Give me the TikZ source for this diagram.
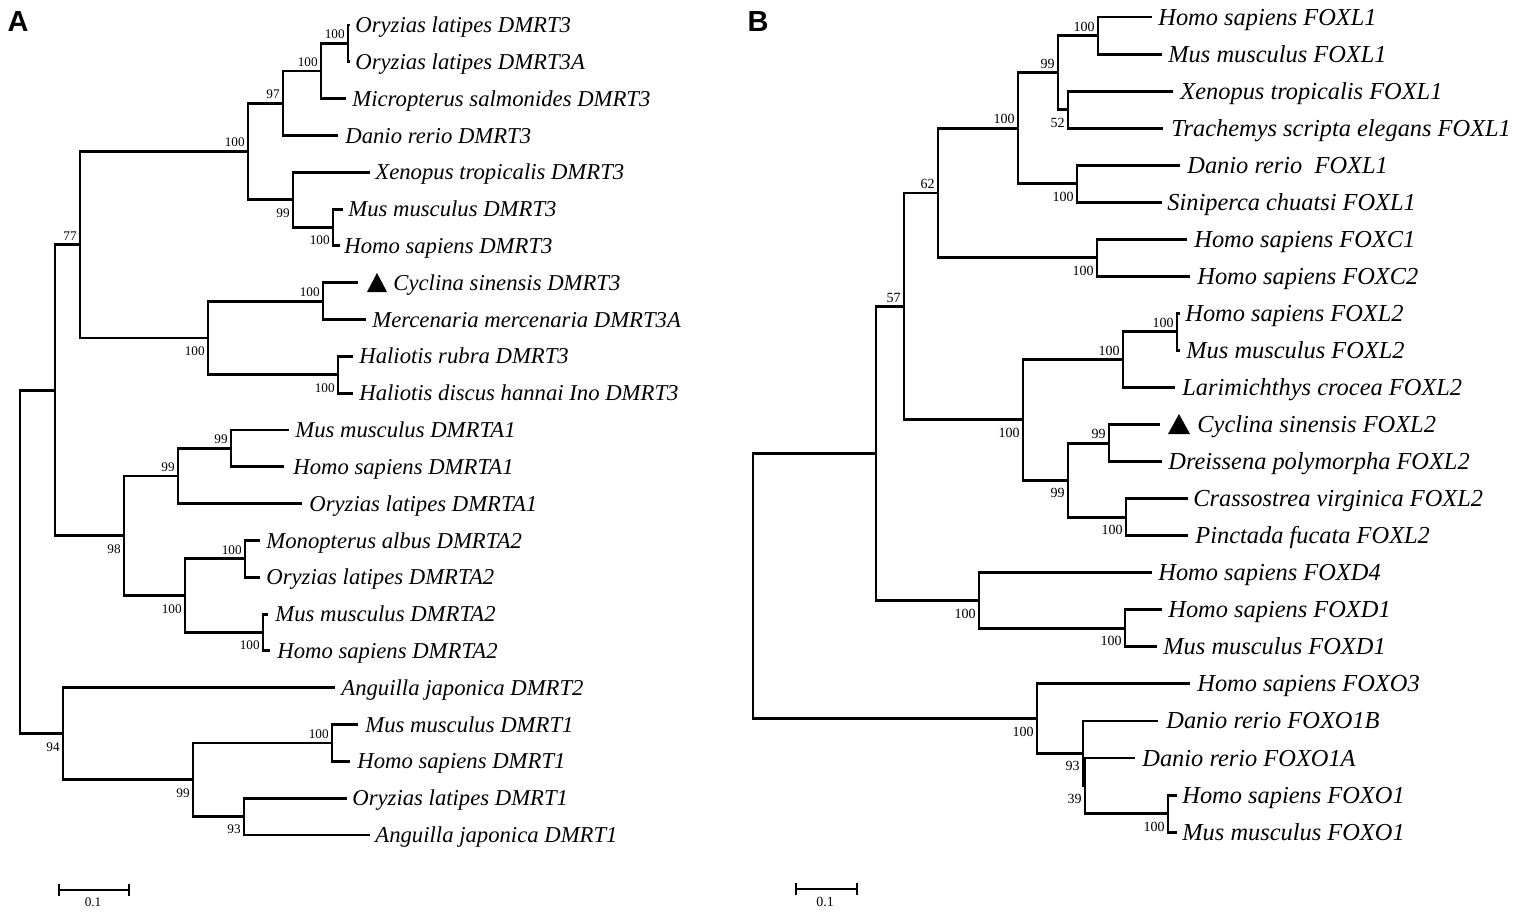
\documentclass[tikz,border=0pt]{standalone}
\usepackage{fontspec}
\setmainfont{Liberation Serif}
\newfontfamily\labfont{Liberation Sans}
\usetikzlibrary{calc}
\tikzset{
  br/.style={line width=1.45pt, line join=miter},
  leaf/.style={anchor=base west, inner sep=0pt, font=\fontsize{11.35}{12}\selectfont\itshape},
  leafB/.style={anchor=base west, inner sep=0pt, font=\fontsize{12.2}{13}\selectfont\itshape},
  bs/.style={anchor=east, inner sep=0pt, font=\fontsize{6.6}{7}\selectfont},
  bsB/.style={anchor=east, inner sep=0pt, font=\fontsize{7}{8}\selectfont},
  panel/.style={inner sep=0pt, font=\fontsize{14.5}{15}\selectfont\labfont\bfseries},
  tri/.style={fill=black},
  sbar/.style={line width=1.2pt},
}
\newcommand{\bsup}[2]{\node[bs] (l#1) at ($(#1)+(-3,-9)$) {#2};}
\newcommand{\bsdn}[2]{\node[bs] (l#1) at ($(#1)+(-3,13)$) {#2};}
\newcommand{\bBup}[2]{\node[bsB] (l#1) at ($(#1)+(-3,-9)$) {#2};}
\newcommand{\bBdn}[2]{\node[bsB] (l#1) at ($(#1)+(-3,13)$) {#2};}
\newcommand{\lf}[5]{\coordinate (#1) at (#2,#4); \node[leaf] (t#1) at (#3,#4+7.5) {#5};}
\newcommand{\lfB}[5]{\coordinate (#1) at (#2,#4); \node[leafB] (t#1) at (#3,#4+8) {#5};}
\begin{document}
\begin{tikzpicture}[x=0.5pt,y=-0.5pt]
\useasboundingbox (0,0) rectangle (1535,916);
\fill[white] (0,0) rectangle (1535,916);
\node[panel] (pA) at (18,22) {A};
\node[panel] (pB) at (758,22) {B};
% ---------------- Tree A ----------------
\coordinate (aR) at (20,562);
\coordinate (a1) at (55,390.3);
\coordinate (a2) at (80,244.8);
\coordinate (a3) at (248,151.6);
\coordinate (a4) at (283,103.25);
\coordinate (a5) at (321,71);
\coordinate (a6) at (348,43.4);
\coordinate (a7) at (293,199.9);
\coordinate (a8) at (333,227.5);
\coordinate (a9) at (323,301.15);
\coordinate (a10) at (208,338);
\coordinate (a11) at (338,374.8);
\coordinate (a12) at (231,448.4);
\coordinate (a13) at (178,476);
\coordinate (a14) at (124,535.9);
\coordinate (a15) at (185,595.7);
\coordinate (a16) at (245,558.9);
\coordinate (a17) at (263,632.5);
\coordinate (a18) at (63,733.8);
\coordinate (a19) at (193,779.8);
\coordinate (a20) at (332,743);
\coordinate (a21) at (244,816.6);
\lf{eA0}{350}{355}{25}{Oryzias latipes DMRT3}
\lf{eA1}{350}{355}{61.8}{Oryzias latipes DMRT3A}
\lf{eA2}{346}{352}{98.6}{Micropterus salmonides DMRT3}
\lf{eA3}{338}{345}{135.5}{Danio rerio DMRT3}
\lf{eA4}{370}{375}{172.3}{Xenopus tropicalis DMRT3}
\lf{eA5}{343}{348}{209.1}{Mus musculus DMRT3}
\lf{eA6}{340}{344}{245.9}{Homo sapiens DMRT3}
\lf{eA7}{358}{393}{282.7}{Cyclina sinensis DMRT3}
\lf{eA8}{366}{372}{319.6}{Mercenaria mercenaria DMRT3A}
\lf{eA9}{353}{359}{356.4}{Haliotis rubra DMRT3}
\lf{eA10}{353}{359}{393.2}{Haliotis discus hannai Ino DMRT3}
\lf{eA11}{289}{295}{430.0}{Mus musculus DMRTA1}
\lf{eA12}{284}{293}{466.8}{Homo sapiens DMRTA1}
\lf{eA13}{302}{309}{503.7}{Oryzias latipes DMRTA1}
\lf{eA14}{260}{266}{540.5}{Monopterus albus DMRTA2}
\lf{eA15}{260}{266}{577.3}{Oryzias latipes DMRTA2}
\lf{eA16}{268}{275}{614.1}{Mus musculus DMRTA2}
\lf{eA17}{270}{277}{650.9}{Homo sapiens DMRTA2}
\lf{eA18}{335}{341}{687.8}{Anguilla japonica DMRT2}
\lf{eA19}{358}{365}{724.6}{Mus musculus DMRT1}
\lf{eA20}{350}{357}{761.4}{Homo sapiens DMRT1}
\lf{eA21}{347}{352}{798.2}{Oryzias latipes DMRT1}
\lf{eA22}{370}{375}{835.0}{Anguilla japonica DMRT1}
\fill[tri] (367,292) -- (387,292) -- (377,273) -- cycle;
\draw[br] (aR) |- (a1);  \draw[br] (aR) |- (a18);
\draw[br] (a1) |- (a2);  \draw[br] (a1) |- (a14);
\draw[br] (a2) |- (a3);  \draw[br] (a2) |- (a10);
\draw[br] (a3) |- (a4);  \draw[br] (a3) |- (a7);
\draw[br] (a4) |- (a5);  \draw[br] (a4) |- (eA3);
\draw[br] (a5) |- (a6);  \draw[br] (a5) |- (eA2);
\draw[br] (a6) |- (eA0); \draw[br] (a6) |- (eA1);
\draw[br] (a7) |- (eA4); \draw[br] (a7) |- (a8);
\draw[br] (a8) |- (eA5); \draw[br] (a8) |- (eA6);
\draw[br] (a10) |- (a9); \draw[br] (a10) |- (a11);
\draw[br] (a9) |- (eA7); \draw[br] (a9) |- (eA8);
\draw[br] (a11) |- (eA9); \draw[br] (a11) |- (eA10);
\draw[br] (a14) |- (a13); \draw[br] (a14) |- (a15);
\draw[br] (a13) |- (a12); \draw[br] (a13) |- (eA13);
\draw[br] (a12) |- (eA11); \draw[br] (a12) |- (eA12);
\draw[br] (a15) |- (a16); \draw[br] (a15) |- (a17);
\draw[br] (a16) |- (eA14); \draw[br] (a16) |- (eA15);
\draw[br] (a17) |- (eA16); \draw[br] (a17) |- (eA17);
\draw[br] (a18) |- (eA18); \draw[br] (a18) |- (a19);
\draw[br] (a19) |- (a20); \draw[br] (a19) |- (a21);
\draw[br] (a20) |- (eA19); \draw[br] (a20) |- (eA20);
\draw[br] (a21) |- (eA21); \draw[br] (a21) |- (eA22);
\bsup{a2}{77}
\bsup{a3}{100}
\bsup{a4}{97}
\bsup{a5}{100}
\bsup{a6}{100}
\bsdn{a7}{99}
\bsdn{a8}{100}
\bsup{a9}{100}
\bsdn{a10}{100}
\bsdn{a11}{100}
\bsup{a12}{99}
\bsup{a13}{99}
\bsdn{a14}{98}
\bsdn{a15}{100}
\bsup{a16}{100}
\bsdn{a17}{100}
\bsdn{a18}{94}
\bsdn{a19}{99}
\bsup{a20}{100}
\bsdn{a21}{93}
% scale bar A
\coordinate (sA1) at (59,890);
\coordinate (sA2) at (129,890);
\draw[sbar] (sA1) -- (sA2);
\draw[sbar] ($(sA1)+(0,-6)$) -- ($(sA1)+(0,6)$);
\draw[sbar] ($(sA2)+(0,-6)$) -- ($(sA2)+(0,6)$);
\node[bs, anchor=center] (sAl) at (93,902) {0.1};
% ---------------- Tree B ----------------
\coordinate (bR) at (753,586);
\coordinate (b17) at (876,453.5);
\coordinate (b8) at (904,306.5);
\coordinate (b7) at (938,193);
\coordinate (b5) at (1018,128.2);
\coordinate (b3) at (1058,72.6);
\coordinate (b1) at (1098,35.5);
\coordinate (b2) at (1068,109.6);
\coordinate (b4) at (1077,183.7);
\coordinate (b6) at (1097,257.8);
\coordinate (b11) at (1023,419.9);
\coordinate (b10) at (1123,359.7);
\coordinate (b9) at (1177,331.9);
\coordinate (b14) at (1068,480.1);
\coordinate (b12) at (1109,443.1);
\coordinate (b13) at (1126,517.2);
\coordinate (b16) at (979,600.5);
\coordinate (b15) at (1125,628.3);
\coordinate (b19) at (1037,718.6);
\coordinate (b20) at (1083,753.4);
\coordinate (b21) at (1085,785.8);
\coordinate (b22) at (1168,813.6);
\lfB{eB0}{1152}{1158}{17}{Homo sapiens FOXL1}
\lfB{eB1}{1162}{1168}{54.05}{Mus musculus FOXL1}
\lfB{eB2}{1173}{1180}{91.1}{Xenopus tropicalis FOXL1}
\lfB{eB3}{1163}{1171}{128.15}{Trachemys scripta elegans FOXL1}
\lfB{eB4}{1180}{1187}{165.2}{Danio rerio \ FOXL1}
\lfB{eB5}{1162}{1167}{202.25}{Siniperca chuatsi FOXL1}
\lfB{eB6}{1187}{1194}{239.3}{Homo sapiens FOXC1}
\lfB{eB7}{1190}{1197}{276.35}{Homo sapiens FOXC2}
\lfB{eB8}{1180}{1185}{313.4}{Homo sapiens FOXL2}
\lfB{eB9}{1180}{1186}{350.45}{Mus musculus FOXL2}
\lfB{eB10}{1175}{1182}{387.5}{Larimichthys crocea FOXL2}
\lfB{eB11}{1160}{1197}{424.55}{Cyclina sinensis FOXL2}
\lfB{eB12}{1162}{1168}{461.6}{Dreissena polymorpha FOXL2}
\lfB{eB13}{1188}{1193}{498.65}{Crassostrea virginica FOXL2}
\lfB{eB14}{1188}{1195}{535.7}{Pinctada fucata FOXL2}
\lfB{eB15}{1152}{1158}{572.75}{Homo sapiens FOXD4}
\lfB{eB16}{1162}{1168}{609.8}{Homo sapiens FOXD1}
\lfB{eB17}{1157}{1163}{646.85}{Mus musculus FOXD1}
\lfB{eB18}{1190}{1197}{683.9}{Homo sapiens FOXO3}
\lfB{eB19}{1158}{1166}{720.95}{Danio rerio FOXO1B}
\lfB{eB20}{1135}{1142}{758}{Danio rerio FOXO1A}
\lfB{eB21}{1177}{1182}{795.05}{Homo sapiens FOXO1}
\lfB{eB22}{1177}{1182}{832.1}{Mus musculus FOXO1}
\fill[tri] (1168,434) -- (1190,434) -- (1179,414) -- cycle;
\draw[br] (bR) |- (b17); \draw[br] (bR) |- (b19);
\draw[br] (b17) |- (b8); \draw[br] (b17) |- (b16);
\draw[br] (b8) |- (b7);  \draw[br] (b8) |- (b11);
\draw[br] (b7) |- (b5);  \draw[br] (b7) |- (b6);
\draw[br] (b5) |- (b3);  \draw[br] (b5) |- (b4);
\draw[br] (b3) |- (b1);  \draw[br] (b3) |- (b2);
\draw[br] (b1) |- (eB0); \draw[br] (b1) |- (eB1);
\draw[br] (b2) |- (eB2); \draw[br] (b2) |- (eB3);
\draw[br] (b4) |- (eB4); \draw[br] (b4) |- (eB5);
\draw[br] (b6) |- (eB6); \draw[br] (b6) |- (eB7);
\draw[br] (b11) |- (b10); \draw[br] (b11) |- (b14);
\draw[br] (b10) |- (b9); \draw[br] (b10) |- (eB10);
\draw[br] (b9) |- (eB8); \draw[br] (b9) |- (eB9);
\draw[br] (b14) |- (b12); \draw[br] (b14) |- (b13);
\draw[br] (b12) |- (eB11); \draw[br] (b12) |- (eB12);
\draw[br] (b13) |- (eB13); \draw[br] (b13) |- (eB14);
\draw[br] (b16) |- (eB15); \draw[br] (b16) |- (b15);
\draw[br] (b15) |- (eB16); \draw[br] (b15) |- (eB17);
\draw[br] (b19) |- (eB18); \draw[br] (b19) |- (b20);
\draw[br] (b20) |- (eB19); \draw[br] (b20) |- (b21);
\draw[br] (b21) |- (eB20); \draw[br] (b21) |- (b22);
\draw[br] (b22) |- (eB21); \draw[br] (b22) |- (eB22);
\bBup{b1}{100}
\bBdn{b2}{52}
\bBup{b3}{99}
\bBdn{b4}{100}
\bBup{b5}{100}
\bBdn{b6}{100}
\bBup{b7}{62}
\bBup{b8}{57}
\bBup{b9}{100}
\bBup{b10}{100}
\bBdn{b11}{100}
\bBup{b12}{99}
\bBdn{b13}{100}
\bBdn{b14}{99}
\bBdn{b15}{100}
\bBdn{b16}{100}
\bBdn{b19}{100}
\bBdn{b20}{93}
\bBdn{b21}{39}
\bBdn{b22}{100}
% scale bar B
\coordinate (sB1) at (796,889);
\coordinate (sB2) at (857,889);
\draw[sbar] (sB1) -- (sB2);
\draw[sbar] ($(sB1)+(0,-6)$) -- ($(sB1)+(0,6)$);
\draw[sbar] ($(sB2)+(0,-6)$) -- ($(sB2)+(0,6)$);
\node[bsB, anchor=center] (sBl) at (825,902) {0.1};
\end{tikzpicture}
\end{document}
